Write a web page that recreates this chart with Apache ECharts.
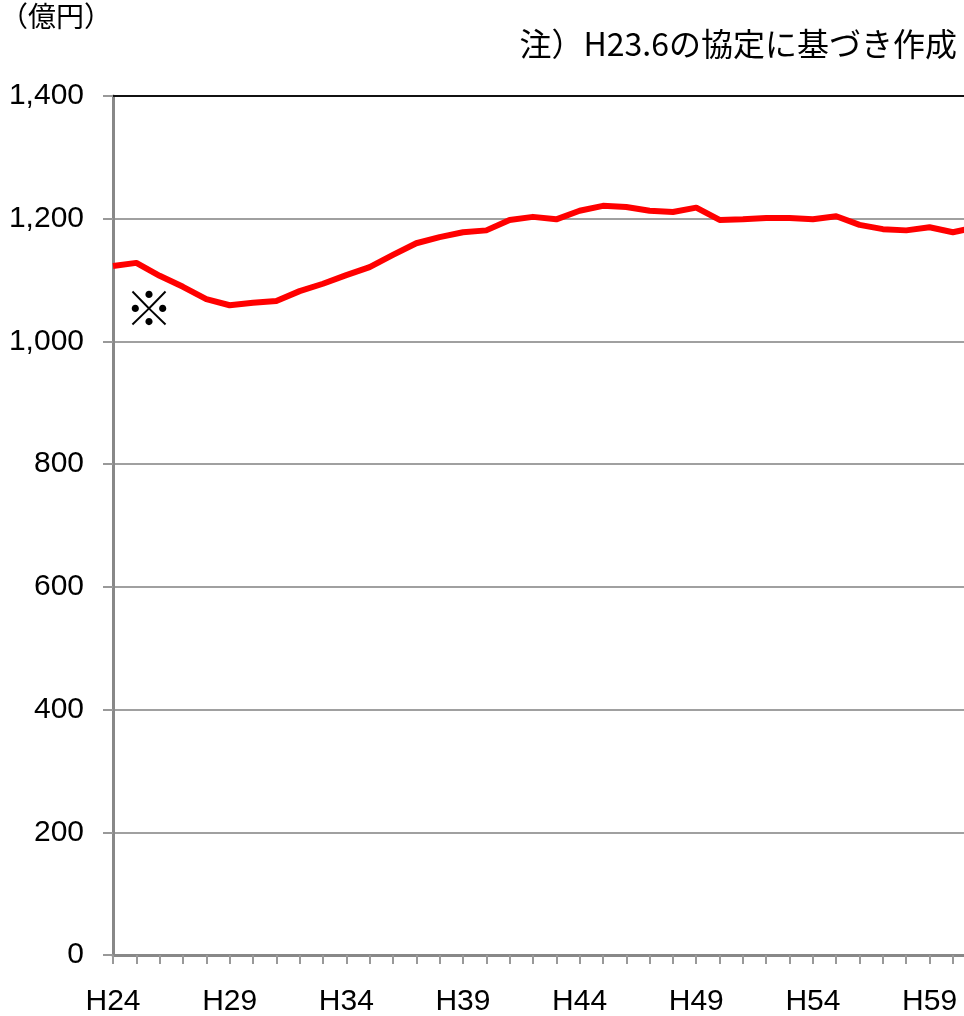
<!DOCTYPE html>
<html>
<head>
<meta charset="utf-8">
<script src="https://cdn.jsdelivr.net/npm/echarts@6/dist/echarts.min.js"></script>
<style>
  html, body { margin: 0; padding: 0; background: #fff; }
  #chart { width: 964px; height: 1016px; }
</style>
</head>
<body>
<div id="chart"></div>
<script>
// Fiscal years (Heisei era), one point per year
const years = [
  'H24','H25','H26','H27','H28','H29','H30','H31','H32','H33',
  'H34','H35','H36','H37','H38','H39','H40','H41','H42','H43',
  'H44','H45','H46','H47','H48','H49','H50','H51','H52','H53',
  'H54','H55','H56','H57','H58','H59','H60','H61'
];

// Amount per year (100 million yen)
const amounts = [
  1123, 1128, 1107, 1089, 1069, 1059, 1063, 1066, 1082, 1094,
  1108, 1121, 1141, 1160, 1170, 1178, 1181, 1198, 1203, 1199,
  1213, 1221, 1219, 1213, 1211, 1218, 1198, 1199, 1201, 1201,
  1199, 1204, 1190, 1183, 1181, 1186, 1178, 1186
];

// Value axis ticks
const yTicks = [0, 200, 400, 600, 800, 1000, 1200, 1400];

const unitLabel = '（億円）';
const noteLabel = '注）H23.6の協定に基づき作成';
const markLabel = '※';

const numFont = '"Liberation Sans", Arial, sans-serif';
const jpFont = '"Noto Sans CJK JP", "Noto Sans", sans-serif';

const chart = echarts.init(document.getElementById('chart'), null, { renderer: 'canvas' });

// the plot runs a little past the right edge of the canvas
const plotLeft = 113;
const stepPx = 23.33;
const plotWidth = stepPx * (years.length - 1);

chart.setOption({
  animation: false,
  backgroundColor: '#ffffff',
  grid: {
    left: plotLeft,
    top: 96,
    bottom: 61,
    width: plotWidth,
    containLabel: false,
    outerBoundsMode: 'none'
  },
  xAxis: [
    {
      type: 'category',
      data: years,
      boundaryGap: false,
      axisLine: { show: true, lineStyle: { color: '#888888', width: 3 } },
      axisTick: { show: true, interval: 0, length: 9, lineStyle: { color: '#999999', width: 2 } },
      axisLabel: {
        interval: 4,
        margin: 32,
        color: '#000',
        fontSize: 30,
        fontFamily: numFont
      },
      splitLine: { show: false }
    },
    {
      // frame line along the top of the plot
      type: 'category',
      data: years,
      position: 'top',
      boundaryGap: false,
      axisLine: { show: true, lineStyle: { color: '#111111', width: 2 } },
      axisTick: { show: false },
      axisLabel: { show: false },
      splitLine: { show: false }
    }
  ],
  yAxis: {
    type: 'value',
    min: yTicks[0],
    max: yTicks[yTicks.length - 1],
    interval: yTicks[1] - yTicks[0],
    axisLine: { show: true, lineStyle: { color: '#888888', width: 3 } },
    axisTick: { show: true, length: 10, lineStyle: { color: '#999999', width: 2 } },
    axisLabel: {
      margin: 29,
      color: '#000',
      fontSize: 30,
      fontFamily: numFont,
      formatter: v => v.toLocaleString('en-US')
    },
    splitLine: { show: true, lineStyle: { color: '#a0a0a0', width: 2 } }
  },
  series: [
    {
      type: 'line',
      data: amounts,
      xAxisIndex: 0,
      symbol: 'none',
      smooth: false,
      clip: true,
      lineStyle: { color: '#ff0000', width: 6, join: 'round' },
      z: 5
    }
  ],
  graphic: [
    {
      type: 'text',
      left: 0,
      top: 2,
      style: { text: unitLabel, font: '28px ' + jpFont, fill: '#000' }
    },
    {
      type: 'text',
      right: 7,
      top: 28,
      style: { text: noteLabel, font: '32px ' + jpFont, fill: '#000' }
    },
    {
      type: 'text',
      x: 149,
      y: 308,
      style: {
        text: markLabel,
        font: 'bold 48px ' + jpFont,
        fill: '#000',
        align: 'center',
        verticalAlign: 'middle'
      },
      z: 10
    }
  ]
});
</script>
</body>
</html>
